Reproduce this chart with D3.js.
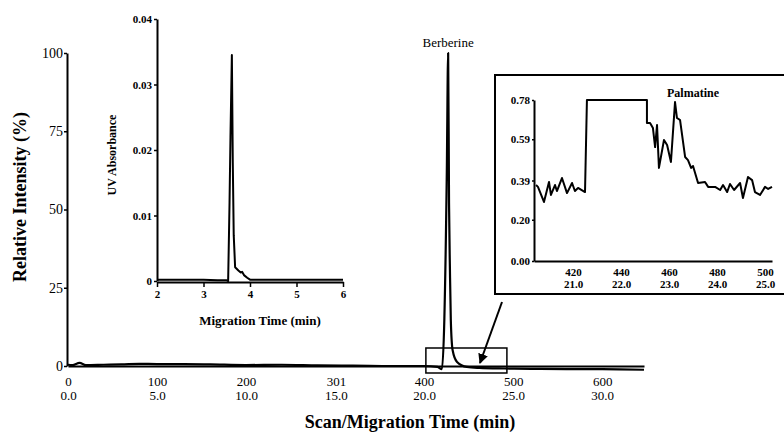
<!DOCTYPE html>
<html><head><meta charset="utf-8">
<script src="https://cdn.jsdelivr.net/npm/d3@7"></script>
<style>
body{margin:0;background:#fff;}
text{font-family:"Liberation Serif","Times New Roman",serif;fill:#000;}
</style></head>
<body><svg id="c" width="784" height="434"></svg>
<script>
// ---- Main electropherogram (scan number vs relative intensity) ----
const mainScan      = [0, 5, 13, 20, 40, 60, 80, 100, 130, 160, 200, 240, 280, 320, 360, 400, 415, 420, 425.5, 427, 428, 429, 430, 432, 437, 448, 462, 490, 520, 560, 600, 647];
const mainIntensity = [0.4, 0.3, 1.0, 0.3, 0.4, 0.5, 0.7, 0.6, 0.6, 0.5, 0.3, 0.4, 0.2, 0.1, 0.0, 0.0, -0.3, -1.0, 62, 100, 52, 31, 14.7, 5.1, 1.3, -0.3, -0.6, -0.8, -0.9, -1.0, -1.0, -1.2];
const mainXTicks    = [0, 100, 200, 301, 400, 500, 600];
const mainXTicksMin = ["0.0", "5.0", "10.0", "15.0", "20.0", "25.0", "30.0"];
const mainYTicks    = [0, 25, 50, 75, 100];
const zoomRange     = [402, 493];

// ---- UV inset ----
const uvTime  = [2.0, 2.5, 3.0, 3.3, 3.5, 3.53, 3.56, 3.58, 3.61, 3.63, 3.65, 3.68, 3.75, 3.8, 3.83, 3.87, 3.94, 4.0, 4.5, 5.0, 5.5, 6.0];
const uvAbs   = [0.0002, 0.0002, 0.0002, 0.0001, 0.0001, 0.0, 0.012, 0.022, 0.0345, 0.018, 0.007, 0.0021, 0.0016, 0.0013, 0.0014, 0.0009, 0.0005, 0.0002, 0.0002, 0.0002, 0.0002, 0.0002];
const uvXTicks = [2, 3, 4, 5, 6];
const uvYTicks = [0, 0.01, 0.02, 0.03, 0.04];

// ---- Palmatine zoom inset ----
const palScan = [404.6, 405.4, 407.9, 410, 410.8, 412.5, 413.3, 415.4, 417.5, 419.6, 420.8, 422.1, 425, 425.8, 450.8, 450.8, 452.1, 453.3, 454.2, 455, 455.8, 457.9, 459.2, 460.8, 462.5, 463.3, 464.6, 466.7, 467.9, 469.2, 470, 472.1, 475, 476.3, 479.2, 481.3, 482.5, 484.2, 485.4, 487.1, 489.6, 490.8, 492.9, 494.6, 495.8, 497.9, 500, 501.3, 502.9];
const palVal  = [0.368, 0.359, 0.286, 0.383, 0.320, 0.368, 0.339, 0.402, 0.329, 0.378, 0.339, 0.354, 0.334, 0.78, 0.78, 0.669, 0.669, 0.644, 0.552, 0.659, 0.451, 0.586, 0.562, 0.480, 0.770, 0.693, 0.683, 0.504, 0.489, 0.451, 0.460, 0.378, 0.383, 0.359, 0.359, 0.344, 0.368, 0.334, 0.373, 0.344, 0.378, 0.305, 0.407, 0.392, 0.334, 0.320, 0.359, 0.349, 0.359];
const palXTicks    = [420, 440, 460, 480, 500];
const palXTicksMin = ["21.0", "22.0", "23.0", "24.0", "25.0"];
const palYTicks    = [0.00, 0.20, 0.39, 0.59, 0.78];

const svg = d3.select("#c");

// ===== main chart =====
const x = d3.scaleLinear().domain([0, 647]).range([68, 644]);
const y = d3.scaleLinear().domain([0, 100]).range([366, 53]);

const gx = svg.append("g").attr("transform", "translate(0,366)")
  .call(d3.axisBottom(x).tickValues(mainXTicks).tickSize(0).tickPadding(0).tickFormat(""));
gx.select(".domain").attr("stroke", "#000").attr("stroke-width", 2.2);
gx.selectAll(".tick text").remove();
gx.selectAll(".tick").each(function(d, i) {
  const g = d3.select(this);
  g.append("text").attr("text-anchor", "middle").style("font-size", "13px").attr("y", 20).text(d);
  g.append("text").attr("text-anchor", "middle").style("font-size", "13px").attr("y", 34).text(mainXTicksMin[i]);
});

const gy = svg.append("g").attr("transform", "translate(67,0)")
  .call(d3.axisLeft(y).tickValues(mainYTicks).tickSize(3).tickPadding(1).tickSizeOuter(0));
gy.select(".domain").attr("stroke", "#000").attr("stroke-width", 2);
gy.selectAll(".tick line").attr("stroke", "#000").attr("stroke-width", 1.5);
gy.selectAll(".tick text").style("font-size", "14px").style("font-family", "Liberation Serif").attr("fill", "#000");

const mainData = mainScan.map((s, i) => [s, mainIntensity[i]]);
svg.append("path").datum(mainData)
  .attr("fill", "none").attr("stroke", "#000").attr("stroke-width", 2.2).attr("stroke-linejoin", "round")
  .attr("d", d3.line().x(d => x(d[0])).y(d => y(d[1])).curve(d3.curveMonotoneX));

svg.append("text").attr("x", 410).attr("y", 428).attr("text-anchor", "middle")
  .style("font-size", "18px").style("font-weight", "bold").text("Scan/Migration Time (min)");
svg.append("text").attr("transform", "translate(26,197) rotate(-90)").attr("text-anchor", "middle")
  .style("font-size", "18px").style("font-weight", "bold").text("Relative Intensity (%)");

svg.append("text").attr("x", x(427)).attr("y", 47).attr("text-anchor", "middle")
  .style("font-size", "13px").text("Berberine");

// zoom rectangle
svg.append("rect").attr("x", x(zoomRange[0])).attr("y", 348)
  .attr("width", x(zoomRange[1]) - x(zoomRange[0])).attr("height", 25)
  .attr("fill", "none").attr("stroke", "#000").attr("stroke-width", 1.5);

// arrow
svg.append("defs").append("marker").attr("id", "ah").attr("viewBox", "0 0 10 10")
  .attr("refX", 9).attr("refY", 5).attr("markerWidth", 5).attr("markerHeight", 5).attr("orient", "auto")
  .append("path").attr("d", "M0,0 L10,5 L0,10 z").attr("fill", "#000");
svg.append("line").attr("x1", 502).attr("y1", 302).attr("x2", 480).attr("y2", 363)
  .attr("stroke", "#000").attr("stroke-width", 2).attr("marker-end", "url(#ah)");

// ===== UV inset =====
const ux = d3.scaleLinear().domain([2, 6]).range([157, 343]);
const uy = d3.scaleLinear().domain([0, 0.04]).range([281, 19]);
const ugx = svg.append("g").attr("transform", "translate(0,282)")
  .call(d3.axisBottom(ux).tickValues(uvXTicks).tickSize(5).tickSizeOuter(0).tickPadding(3).tickFormat(d3.format("d")));
ugx.select(".domain").attr("stroke", "#000").attr("stroke-width", 2);
ugx.selectAll(".tick line").attr("stroke", "#000").attr("stroke-width", 1.5);
ugx.selectAll(".tick text").style("font-size", "11px").style("font-weight", "bold").style("font-family", "Liberation Serif");
const ugy = svg.append("g").attr("transform", "translate(157,0)")
  .call(d3.axisLeft(uy).tickValues(uvYTicks).tickSize(3).tickSizeOuter(0).tickPadding(2)
    .tickFormat(d => d === 0 ? "0" : d3.format(".2f")(d)));
ugy.select(".domain").attr("stroke", "#000").attr("stroke-width", 2);
ugy.selectAll(".tick line").attr("stroke", "#000").attr("stroke-width", 1.5);
ugy.selectAll(".tick text").style("font-size", "11px").style("font-weight", "bold").style("font-family", "Liberation Serif");

svg.append("path").datum(uvTime.map((t, i) => [t, uvAbs[i]]))
  .attr("fill", "none").attr("stroke", "#000").attr("stroke-width", 2).attr("stroke-linejoin", "round")
  .attr("d", d3.line().x(d => ux(d[0])).y(d => uy(d[1])));

svg.append("text").attr("x", 260).attr("y", 325).attr("text-anchor", "middle")
  .style("font-size", "13px").style("font-weight", "bold").text("Migration Time (min)");
svg.append("text").attr("transform", "translate(116,155) rotate(-90)").attr("text-anchor", "middle")
  .style("font-size", "12px").style("font-weight", "bold").text("UV Absorbance");

// ===== Palmatine inset =====
svg.append("rect").attr("x", 495).attr("y", 75).attr("width", 300).attr("height", 219)
  .attr("fill", "#fff").attr("stroke", "#000").attr("stroke-width", 2);

const px = d3.scaleLinear().domain([403.75, 502.9]).range([534, 772]);
const py = d3.scaleLinear().domain([0, 0.78]).range([261, 100]);
const pgx = svg.append("g").attr("transform", "translate(0,261)")
  .call(d3.axisBottom(px).tickValues(palXTicks).tickSize(0).tickSizeOuter(0).tickFormat(""));
pgx.select(".domain").attr("stroke", "#000").attr("stroke-width", 2);
pgx.selectAll(".tick text").remove();
pgx.selectAll(".tick").each(function(d, i) {
  const g = d3.select(this);
  g.append("text").attr("text-anchor", "middle").style("font-size", "11px").style("font-weight", "bold").attr("y", 15).text(d);
  g.append("text").attr("text-anchor", "middle").style("font-size", "11px").style("font-weight", "bold").attr("y", 27).text(palXTicksMin[i]);
});
const pgy = svg.append("g").attr("transform", "translate(534,0)")
  .call(d3.axisLeft(py).tickValues(palYTicks).tickSize(2).tickSizeOuter(0).tickPadding(2).tickFormat(d3.format(".2f")));
pgy.select(".domain").attr("stroke", "#000").attr("stroke-width", 2);
pgy.selectAll(".tick line").attr("stroke", "#000").attr("stroke-width", 1.5);
pgy.selectAll(".tick text").style("font-size", "11px").style("font-weight", "bold").style("font-family", "Liberation Serif");

svg.append("path").datum(palScan.map((s, i) => [s, palVal[i]]))
  .attr("fill", "none").attr("stroke", "#000").attr("stroke-width", 2).attr("stroke-linejoin", "round")
  .attr("d", d3.line().x(d => px(d[0])).y(d => py(d[1])));

svg.append("text").attr("x", 693).attr("y", 97).attr("text-anchor", "middle")
  .style("font-size", "12px").style("font-weight", "bold").text("Palmatine");
</script></body></html>
